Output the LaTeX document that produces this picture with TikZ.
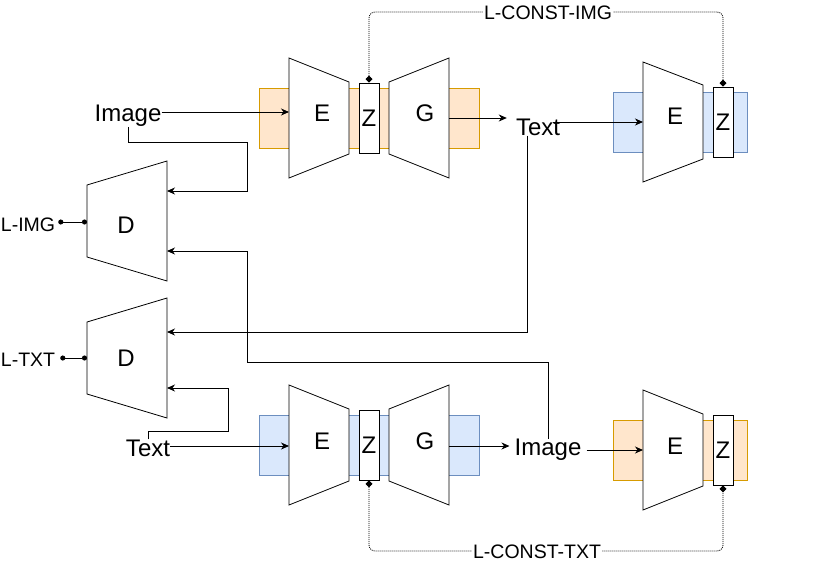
\documentclass[tikz,border=0pt]{standalone}
\usepackage{fontspec}
\setmainfont{Liberation Sans}
\usetikzlibrary{arrows.meta}
\definecolor{orangefill}{HTML}{FFE6CC}
\definecolor{orangeline}{HTML}{D79B00}
\definecolor{bluefill}{HTML}{DAE8FC}
\definecolor{blueline}{HTML}{6C8EBF}
\tikzset{
  enc/.style={draw,line width=0.8pt,fill=white},
  zbox/.style={draw,line width=0.9pt,fill=white,inner sep=0pt,minimum width=20pt,minimum height=70pt,font=\fontsize{24}{28}\selectfont},
  orangebg/.style={draw=orangeline,fill=orangefill,line width=0.8pt,minimum height=60pt},
  bluebg/.style={draw=blueline,fill=bluefill,line width=0.8pt,minimum height=60pt},
  lbl/.style={font=\fontsize{24}{28}\selectfont,inner sep=0pt},
  losslbl/.style={font=\fontsize{19.5}{23}\selectfont,inner sep=0pt},
  conn/.style={line width=0.9pt,-{Stealth[length=8pt,width=7pt,inset=2.5pt]}},
  constline/.style={dash pattern=on 1pt off 1pt,line width=0.8pt,rounded corners=6pt,{Diamond[length=7pt,width=7pt]}-{Diamond[length=7pt,width=7pt]}},
  lossline/.style={line width=0.9pt,{Circle[length=5pt]}-{Circle[length=5pt]}}
}
\begin{document}
\begin{tikzpicture}[x=1pt,y=-1pt]
	\useasboundingbox (0,0) rectangle (834,563);
	%
	%  BACKGROUNDS
	%
	\node[orangebg,minimum width=220pt] (bgA) at (369,118) {};
	\node[bluebg,minimum width=134pt] (bgB) at (680,122) {};
	\node[bluebg,minimum width=220pt] (bgC) at (369,445) {};
	\node[orangebg,minimum width=134pt] (bgD) at (680,450) {};
	%
	%  ENCODERS, GENERATORS, DISCRIMINATORS
	%
	\draw[enc] (289,58) -- (349,82) -- (349,154) -- (289,178) -- cycle;
	\draw[enc] (389,82) -- (449,58) -- (449,178) -- (389,154) -- cycle;
	\draw[enc] (643,62) -- (703,85) -- (703,159) -- (643,182) -- cycle;
	\draw[enc] (289,385) -- (349,409) -- (349,481) -- (289,505) -- cycle;
	\draw[enc] (389,409) -- (449,385) -- (449,505) -- (389,481) -- cycle;
	\draw[enc] (643,390) -- (703,414) -- (703,486) -- (643,510) -- cycle;
	\draw[enc] (87,185) -- (167,161) -- (167,281) -- (87,257) -- cycle;
	\draw[enc] (87,322) -- (167,298) -- (167,418) -- (87,394) -- cycle;
	\node[lbl] (e1) at (322,113) {E};
	\node[lbl] (g1) at (425,113) {G};
	\node[lbl] (e2) at (675,116) {E};
	\node[lbl] (e3) at (322,441) {E};
	\node[lbl] (g3) at (425,441) {G};
	\node[lbl] (e4) at (675,446) {E};
	\node[lbl] (d1) at (126,225) {D};
	\node[lbl] (d2) at (126,358) {D};
	\node[zbox] (z1) at (369,118) {Z};
	\node[zbox] (z2) at (723,122) {Z};
	\node[zbox] (z3) at (369,445) {Z};
	\node[zbox] (z4) at (723,450) {Z};
	%
	%  TEXTS
	%
	\node[lbl] (img1) at (128,116) {Image};
	\node[lbl] (txt1) at (538,127) {Text};
	\node[lbl] (txt2) at (148,448) {Text};
	\node[lbl] (img2) at (548,450) {Image};
	\node[losslbl] (limg) at (28,225) {L-IMG};
	\node[losslbl] (ltxt) at (28,360) {L-TXT};
	%
	%  PORTS
	%
	\coordinate (e1in) at (289,112);
	\coordinate (g1out) at (449,118);
	\coordinate (e2in) at (643,122);
	\coordinate (e3in) at (289,446);
	\coordinate (g3out) at (449,446);
	\coordinate (e4in) at (643,450);
	\coordinate (d1inA) at (167,191);
	\coordinate (d1inB) at (167,251);
	\coordinate (d2inA) at (167,332);
	\coordinate (d2inB) at (167,388);
	\coordinate (d1out) at (87,222);
	\coordinate (d2out) at (87,358);
	%
	%  CONNECTORS
	%
	\draw[conn] (img1.east |- e1in) -- (e1in);
	\draw[conn] (g1out) -- ([xshift=-9pt]txt1.west |- g1out);
	\draw[conn] ([xshift=-7pt]txt1.east |- e2in) -- (e2in);
	\draw[conn] (txt2.east |- e3in) -- (e3in);
	\draw[conn] (g3out) -- ([xshift=-5pt]img2.west |- g3out);
	\draw[conn] ([xshift=5pt]img2.east |- e4in) -- (e4in);
	\draw[conn] (img1.south) |- (247,142) |- (d1inA);
	\draw[conn] ([xshift=-11pt]txt1.south) |- (d2inA);
	\draw[conn] (img2.north) |- (247,362) |- (d1inB);
	\draw[conn] (txt2.north) |- (228,431) |- (d2inB);
	\draw[lossline] ([xshift=3pt]limg.east |- d1out) -- (d1out);
	\draw[lossline] ([xshift=5pt]ltxt.east |- d2out) -- (d2out);
	%
	%  CONSISTENCY LOSSES
	%
	\draw[constline] (z1.north) -- (369,12) -- (723,12) -- (z2.north);
	\draw[constline] (z3.south) -- (369,551) -- (723,551) -- (z4.south);
	\node[losslbl,fill=white,inner xsep=1pt] (cimg) at (548,13) {L-CONST-IMG};
	\node[losslbl,fill=white,inner xsep=1pt] (ctxt) at (537,552) {L-CONST-TXT};
\end{tikzpicture}
\end{document}
